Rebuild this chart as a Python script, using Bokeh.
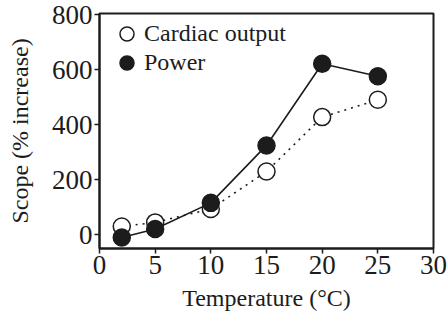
from bokeh.plotting import figure
from bokeh.models import Range1d, FixedTicker, Legend, LegendItem
from bokeh.embed import file_html
from bokeh.resources import INLINE

temperature = [2, 5, 10, 15, 20, 25]
cardiac_output = [30, 45, 94, 230, 428, 491]
power = [-10, 21, 116, 325, 622, 577]
x_ticks = [0, 5, 10, 15, 20, 25, 30]
y_ticks = [0, 200, 400, 600, 800]

FONT = "Liberation Serif"
INK = "#1c1c1c"

p = figure(width=447, height=315, output_backend="svg", toolbar_location=None,
           x_range=Range1d(0, 30), y_range=Range1d(-50, 805),
           min_border_left=99, min_border_right=14, min_border_top=13, min_border_bottom=67)
p.background_fill_color = "white"
p.border_fill_color = "white"
p.xgrid.visible = False
p.ygrid.visible = False
p.outline_line_color = INK
p.outline_line_width = 2

for ax in (p.xaxis[0], p.yaxis[0]):
    ax.axis_line_width = 2
    ax.axis_line_color = INK
    ax.major_tick_line_width = 1.5
    ax.major_tick_line_color = INK
    ax.major_tick_out = 5
    ax.major_tick_in = 0
    ax.minor_tick_line_color = None
    ax.major_label_text_font = FONT
    ax.major_label_text_font_size = "27px"
    ax.major_label_text_color = INK
    ax.axis_label_text_font = FONT
    ax.axis_label_text_font_size = "24px"
    ax.axis_label_text_font_style = "normal"
    ax.axis_label_text_color = INK

p.xaxis.ticker = FixedTicker(ticks=x_ticks)
p.yaxis.ticker = FixedTicker(ticks=y_ticks)
p.xaxis.axis_label = "Temperature (°C)"
p.yaxis.axis_label = "Scope (% increase)"
p.xaxis.major_label_standoff = 2
p.xaxis.axis_label_standoff = 8
p.yaxis.major_label_standoff = 2
p.yaxis.axis_label_standoff = 16

p.line(temperature, cardiac_output, line_color=INK, line_width=1.6, line_dash="2 5")
p.line(temperature, power, line_color=INK, line_width=1.6)
r1 = p.scatter(temperature, cardiac_output, size=17, fill_color="white", line_color=INK, line_width=1.5)
r2 = p.scatter(temperature, power, size=17, fill_color=INK, line_color=INK, line_width=1.5)

common = dict(border_line_color=None, background_fill_alpha=0,
              label_text_font=FONT, label_text_font_size="24px", label_text_color=INK,
              glyph_width=35, glyph_height=35, padding=0, margin=0, label_standoff=0)
legend1 = Legend(items=[LegendItem(label="Cardiac output", renderers=[r1])],
                 location=(10, 197), **common)
legend2 = Legend(items=[LegendItem(label="Power", renderers=[r2])],
                 location=(10, 168), **common)
p.add_layout(legend1)
p.add_layout(legend2)

open("out.html", "w").write(file_html(p, INLINE))
